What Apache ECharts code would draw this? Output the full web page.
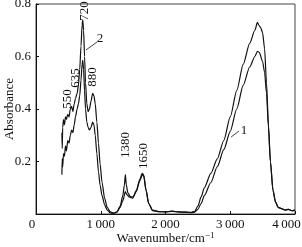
<!DOCTYPE html>
<html>
<head>
<meta charset="utf-8">
<script src="https://cdn.jsdelivr.net/npm/echarts@6/dist/echarts.min.js"></script>
<style>
  html, body { margin: 0; padding: 0; background: #fff; }
  #chart { width: 302px; height: 247px; }
</style>
</head>
<body>
<div id="chart"></div>
<script>
// curve 2 (upper in fingerprint region)
let wave2 = [400, 405, 412, 425, 440, 455, 470, 490, 510, 530, 550, 570, 590, 610, 635, 655, 675, 695, 712, 722, 735, 750, 765, 785, 805, 825, 850, 875, 895, 915, 940, 965, 990, 1020, 1060, 1100, 1150, 1200, 1250, 1300, 1340, 1365, 1380, 1395, 1420, 1460, 1500, 1550, 1600, 1640, 1660, 1700, 1740, 1800, 1900, 2000, 2100, 2200, 2300, 2400, 2450, 2500, 2550, 2600, 2700, 2800, 2900, 3000, 3100, 3200, 3300, 3380, 3420, 3440, 3470, 3500, 3530, 3560, 3590, 3620, 3660, 3700, 3740, 3800, 3850, 3900, 3950, 4000]
let abs2 = [0.31, 0.25, 0.33, 0.36, 0.34, 0.37, 0.36, 0.38, 0.37, 0.40, 0.41, 0.39, 0.42, 0.44, 0.46, 0.49, 0.55, 0.64, 0.72, 0.74, 0.70, 0.60, 0.50, 0.42, 0.39, 0.40, 0.43, 0.46, 0.45, 0.42, 0.35, 0.27, 0.19, 0.12, 0.06, 0.025, 0.008, 0.003, 0.008, 0.03, 0.07, 0.11, 0.15, 0.11, 0.08, 0.065, 0.065, 0.09, 0.13, 0.155, 0.15, 0.09, 0.04, 0.015, 0.009, 0.008, 0.011, 0.008, 0.007, 0.006, 0.01, 0.03, 0.065, 0.10, 0.155, 0.21, 0.28, 0.37, 0.47, 0.57, 0.65, 0.70, 0.73, 0.72, 0.71, 0.69, 0.63, 0.50, 0.34, 0.20, 0.09, 0.045, 0.025, 0.02, 0.015, 0.018, 0.013, 0.015]

// curve 1
let wave1 = [400, 405, 412, 425, 440, 455, 470, 490, 510, 530, 550, 570, 590, 610, 635, 655, 675, 695, 712, 722, 735, 750, 765, 785, 805, 825, 850, 875, 895, 915, 940, 965, 990, 1020, 1060, 1100, 1150, 1200, 1250, 1300, 1340, 1380, 1400, 1440, 1490, 1550, 1600, 1645, 1665, 1700, 1740, 1800, 1900, 2000, 2100, 2200, 2300, 2400, 2450, 2500, 2550, 2600, 2700, 2800, 2900, 3000, 3100, 3200, 3300, 3380, 3420, 3450, 3500, 3530, 3560, 3590, 3620, 3660, 3700, 3740, 3800, 3850, 3900, 3950, 4000]
let abs1 = [0.15, 0.21, 0.18, 0.23, 0.22, 0.26, 0.24, 0.28, 0.27, 0.30, 0.32, 0.31, 0.34, 0.37, 0.40, 0.42, 0.45, 0.51, 0.57, 0.585, 0.55, 0.47, 0.40, 0.35, 0.33, 0.32, 0.33, 0.35, 0.34, 0.30, 0.23, 0.16, 0.11, 0.07, 0.035, 0.015, 0.004, 0.003, 0.007, 0.025, 0.05, 0.085, 0.075, 0.065, 0.06, 0.085, 0.125, 0.15, 0.145, 0.09, 0.04, 0.013, 0.009, 0.008, 0.01, 0.008, 0.007, 0.005, 0.007, 0.018, 0.04, 0.07, 0.12, 0.18, 0.245, 0.315, 0.40, 0.49, 0.56, 0.60, 0.62, 0.615, 0.58, 0.54, 0.46, 0.33, 0.20, 0.09, 0.045, 0.025, 0.02, 0.015, 0.018, 0.013, 0.015]

// peak labels: text, [wavenumber, absorbance] of the label centre
let peakNames = ['550', '635', '720', '880', '1380', '1650']
let peakPos = [[494, 0.438], [618, 0.518], [757, 0.773], [880, 0.522], [1390, 0.263], [1668, 0.221]]

// curve labels with leader lines
let curveNames = ['2', '1']
let curvePos = [[988, 0.67], [3212, 0.316]]
let leaderFrom = [[942, 0.655], [3135, 0.316]]
let leaderTo = [[772, 0.625], [3012, 0.293]]

let font = 'Liberation Serif'

function zip (xs, ys) {
  let out = []
  for (let i = 0; i < xs.length; i++) {
    out.push([xs[i], ys[i]])
  }
  return out
}

let chart = echarts.init(document.getElementById('chart'))
let option = {
  animation: false,
  grid: {
    left: 36,
    right: 7,
    top: 4,
    bottom: 33,
    containLabel: false,
    outerBoundsMode: 'none',
    show: true,
    borderColor: '#444',
    borderWidth: 1
  },
  xAxis: {
    type: 'value',
    min: 0,
    max: 4000,
    interval: 1000,
    name: 'Wavenumber/cm{sup|\u22121}',
    nameLocation: 'middle',
    nameGap: 17,
    nameMoveOverlap: false,
    nameTextStyle: {
      color: '#111',
      fontFamily: font,
      fontSize: 13,
      rich: {
        sup: { fontFamily: font, fontSize: 9, verticalAlign: 'top', padding: [0, 0, 6, 0] }
      }
    },
    axisLine: { lineStyle: { color: '#111' } },
    axisTick: { inside: true, length: 3, lineStyle: { color: '#111' } },
    splitLine: { show: false },
    axisLabel: {
      color: '#111',
      fontFamily: font,
      fontSize: 13,
      margin: 4,
      formatter: function (v) {
        // the shared corner "0" sits just left of the origin
        if (v === 0) return '{z|0}'
        if (v === 4000) return '{e|4\u2009000}'
        return Math.floor(v / 1000) + '\u2009000'
      },
      rich: {
        z: { fontFamily: font, fontSize: 13, padding: [0, 8, 0, 0] },
        e: { fontFamily: font, fontSize: 13, padding: [0, 17, 0, 0] }
      }
    }
  },
  yAxis: {
    type: 'value',
    min: 0,
    max: 0.8,
    interval: 0.2,
    name: 'Absorbance',
    nameLocation: 'middle',
    nameGap: 20,
    nameMoveOverlap: false,
    nameTextStyle: { color: '#111', fontFamily: font, fontSize: 13 },
    axisLine: { lineStyle: { color: '#111' } },
    axisTick: { inside: true, length: 3, lineStyle: { color: '#111' } },
    splitLine: { show: false },
    axisLabel: {
      color: '#111',
      fontFamily: font,
      fontSize: 13,
      margin: 5,
      formatter: function (v) {
        if (v === 0) return ''
        return v.toFixed(1)
      }
    }
  },
  series: [{
    name: '1',
    type: 'line',
    showSymbol: false,
    smooth: 0.25,
    smoothMonotone: 'x',
    lineStyle: { color: '#111', width: 1.2 },
    data: zip(wave1, abs1),
    markLine: {
      symbol: 'none',
      silent: true,
      label: { show: false },
      lineStyle: { color: '#111', width: 0.8, type: 'solid' },
      data: leaderFrom.map(function (p, i) {
        return [{ coord: p }, { coord: leaderTo[i] }]
      })
    }
  }, {
    name: '2',
    type: 'line',
    showSymbol: false,
    smooth: 0.25,
    smoothMonotone: 'x',
    lineStyle: { color: '#111', width: 1.2 },
    data: zip(wave2, abs2),
    markPoint: {
      symbol: 'circle',
      symbolSize: 0,
      silent: true,
      data: peakNames.map(function (t, i) {
        return {
          coord: peakPos[i],
          label: {
            show: true,
            position: 'inside',
            formatter: t,
            rotate: 90,
            color: '#111',
            fontFamily: font,
            fontSize: 13
          }
        }
      }).concat(curveNames.map(function (t, i) {
        return {
          coord: curvePos[i],
          label: {
            show: true,
            position: 'inside',
            formatter: t,
            color: '#111',
            fontFamily: font,
            fontSize: 13
          }
        }
      }))
    }
  }]
}
chart.setOption(option)
</script>
</body>
</html>
